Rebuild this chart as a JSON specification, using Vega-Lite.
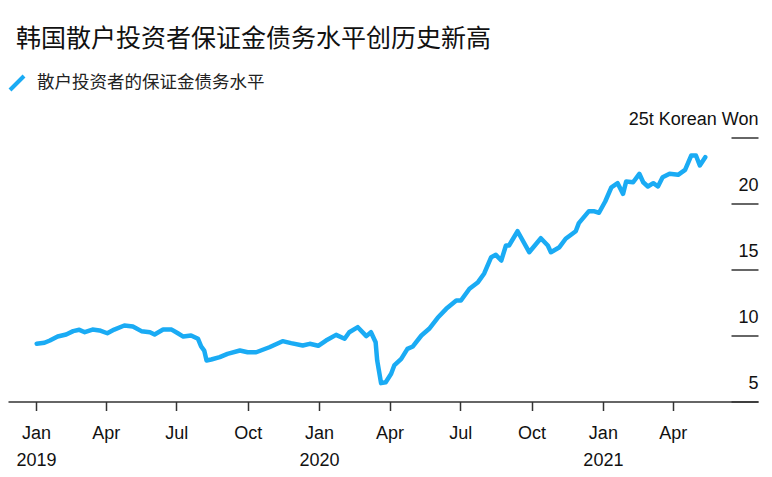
{
  "$schema": "https://vega.github.io/schema/vega-lite/v6.json",
  "width": 750,
  "height": 264,
  "autosize": {"type": "none"},
  "padding": {"left": 8, "top": 137.5, "right": 14, "bottom": 75.5},
  "background": "white",
  "title": {
    "text": "韩国散户投资者保证金债务水平创历史新高",
    "anchor": "start",
    "frame": "group",
    "font": "Noto Sans CJK SC",
    "fontSize": 25,
    "fontWeight": "normal",
    "color": "#111111",
    "dx": 8,
    "dy": -12,
    "offset": 10
  },
  "config": {
    "view": {"stroke": null},
    "axis": {"grid": false}
  },
  "datasets": {
    "debt": [
      {"date": "2019-01-02", "value": 9.37},
      {"date": "2019-01-12", "value": 9.45},
      {"date": "2019-01-19", "value": 9.62},
      {"date": "2019-01-29", "value": 9.92},
      {"date": "2019-02-09", "value": 10.08},
      {"date": "2019-02-18", "value": 10.33},
      {"date": "2019-02-26", "value": 10.43},
      {"date": "2019-03-05", "value": 10.25},
      {"date": "2019-03-15", "value": 10.45},
      {"date": "2019-03-24", "value": 10.38},
      {"date": "2019-04-03", "value": 10.17},
      {"date": "2019-04-12", "value": 10.45},
      {"date": "2019-04-25", "value": 10.76},
      {"date": "2019-05-06", "value": 10.68},
      {"date": "2019-05-17", "value": 10.33},
      {"date": "2019-05-28", "value": 10.25},
      {"date": "2019-06-03", "value": 10.08},
      {"date": "2019-06-14", "value": 10.45},
      {"date": "2019-06-25", "value": 10.45},
      {"date": "2019-07-03", "value": 10.17},
      {"date": "2019-07-10", "value": 9.92},
      {"date": "2019-07-20", "value": 10.0},
      {"date": "2019-07-29", "value": 9.75},
      {"date": "2019-08-02", "value": 9.17},
      {"date": "2019-08-06", "value": 8.86},
      {"date": "2019-08-09", "value": 8.11},
      {"date": "2019-08-15", "value": 8.18},
      {"date": "2019-08-26", "value": 8.36},
      {"date": "2019-09-05", "value": 8.61},
      {"date": "2019-09-21", "value": 8.86},
      {"date": "2019-10-01", "value": 8.73},
      {"date": "2019-10-12", "value": 8.73},
      {"date": "2019-10-29", "value": 9.11},
      {"date": "2019-11-15", "value": 9.57},
      {"date": "2019-11-26", "value": 9.42},
      {"date": "2019-12-11", "value": 9.24},
      {"date": "2019-12-20", "value": 9.37},
      {"date": "2019-12-31", "value": 9.22},
      {"date": "2020-01-10", "value": 9.62},
      {"date": "2020-01-23", "value": 10.05},
      {"date": "2020-02-03", "value": 9.75},
      {"date": "2020-02-09", "value": 10.25},
      {"date": "2020-02-20", "value": 10.63},
      {"date": "2020-03-02", "value": 9.95},
      {"date": "2020-03-08", "value": 10.25},
      {"date": "2020-03-14", "value": 9.49},
      {"date": "2020-03-16", "value": 8.11},
      {"date": "2020-03-21", "value": 6.39},
      {"date": "2020-03-27", "value": 6.46},
      {"date": "2020-04-03", "value": 7.10},
      {"date": "2020-04-07", "value": 7.73},
      {"date": "2020-04-16", "value": 8.23},
      {"date": "2020-04-24", "value": 8.99},
      {"date": "2020-05-01", "value": 9.17},
      {"date": "2020-05-12", "value": 10.0},
      {"date": "2020-05-22", "value": 10.51},
      {"date": "2020-06-02", "value": 11.34},
      {"date": "2020-06-13", "value": 12.02},
      {"date": "2020-06-26", "value": 12.65},
      {"date": "2020-07-02", "value": 12.65},
      {"date": "2020-07-13", "value": 13.54},
      {"date": "2020-07-24", "value": 14.04},
      {"date": "2020-08-01", "value": 14.7},
      {"date": "2020-08-10", "value": 15.93},
      {"date": "2020-08-16", "value": 16.11},
      {"date": "2020-08-23", "value": 15.68},
      {"date": "2020-08-29", "value": 16.82},
      {"date": "2020-09-02", "value": 16.82},
      {"date": "2020-09-13", "value": 17.9},
      {"date": "2020-09-28", "value": 16.31},
      {"date": "2020-10-13", "value": 17.37},
      {"date": "2020-10-22", "value": 16.82},
      {"date": "2020-10-26", "value": 16.31},
      {"date": "2020-11-06", "value": 16.69},
      {"date": "2020-11-14", "value": 17.33},
      {"date": "2020-11-27", "value": 17.9},
      {"date": "2020-12-01", "value": 18.51},
      {"date": "2020-12-14", "value": 19.42},
      {"date": "2020-12-20", "value": 19.42},
      {"date": "2020-12-27", "value": 19.3},
      {"date": "2021-01-04", "value": 20.15},
      {"date": "2021-01-12", "value": 21.23},
      {"date": "2021-01-20", "value": 21.54},
      {"date": "2021-01-27", "value": 20.73},
      {"date": "2021-01-31", "value": 21.67},
      {"date": "2021-02-09", "value": 21.61},
      {"date": "2021-02-17", "value": 22.25},
      {"date": "2021-02-22", "value": 21.61},
      {"date": "2021-02-28", "value": 21.29},
      {"date": "2021-03-07", "value": 21.54},
      {"date": "2021-03-13", "value": 21.29},
      {"date": "2021-03-19", "value": 21.99},
      {"date": "2021-03-28", "value": 22.25},
      {"date": "2021-04-08", "value": 22.17},
      {"date": "2021-04-17", "value": 22.55},
      {"date": "2021-04-25", "value": 23.64},
      {"date": "2021-05-01", "value": 23.64},
      {"date": "2021-05-06", "value": 22.88},
      {"date": "2021-05-13", "value": 23.51}
    ],
    "note": [
      {"date": "2021-04-29", "low": 20.0, "high": 23.3, "label": "Apr. 29"}
    ]
  },
  "layer": [
    {
      "data": {"name": "debt", "format": {"parse": {"date": "date:'%Y-%m-%d'"}}},
      "mark": {"type": "line", "strokeWidth": 4.5, "strokeJoin": "round", "strokeCap": "round"},
      "encoding": {
        "x": {
          "field": "date",
          "type": "temporal",
          "scale": {"domain": [{"year": 2018, "month": 11, "date": 26}, {"year": 2021, "month": 7, "date": 20}]},
          "axis": {
            "orient": "bottom",
            "title": null,
            "values": [
              {"year": 2019, "month": 1, "date": 1},
              {"year": 2019, "month": 4, "date": 1},
              {"year": 2019, "month": 7, "date": 1},
              {"year": 2019, "month": 10, "date": 1},
              {"year": 2020, "month": 1, "date": 1},
              {"year": 2020, "month": 4, "date": 1},
              {"year": 2020, "month": 7, "date": 1},
              {"year": 2020, "month": 10, "date": 1},
              {"year": 2021, "month": 1, "date": 1},
              {"year": 2021, "month": 4, "date": 1}
            ],
            "labelExpr": "month(datum.value) == 0 ? [timeFormat(datum.value, '%b'), timeFormat(datum.value, '%Y')] : timeFormat(datum.value, '%b')",
            "domainColor": "#333333",
            "domainWidth": 1.5,
            "tickColor": "#333333",
            "tickWidth": 1.5,
            "tickSize": 9,
            "labelFont": "Liberation Sans",
            "labelFontSize": 18,
            "labelColor": "#111111",
            "labelPadding": 14,
            "labelLineHeight": 27,
            "labelFlush": false,
            "labelOverlap": false,
            "grid": false
          }
        },
        "y": {
          "field": "value",
          "type": "quantitative",
          "scale": {"domain": [5, 25], "nice": false, "zero": false},
          "axis": {
            "orient": "right",
            "title": null,
            "values": [5, 10, 15, 20, 25],
            "domain": false,
            "grid": false,
            "tickSize": -27,
            "tickColor": "#333333",
            "tickWidth": 1.5,
            "labelPadding": 27,
            "labelAlign": "right",
            "labelBaseline": "alphabetic",
            "labelOffset": -13.5,
            "labelFont": "Liberation Sans",
            "labelFontSize": 18,
            "labelColor": "#111111",
            "labelFlush": false,
            "labelOverlap": false,
            "labelBound": false,
            "labelExpr": "datum.value == 25 ? '25t Korean Won' : datum.label"
          }
        },
        "color": {
          "datum": "散户投资者的保证金债务水平",
          "type": "nominal",
          "scale": {"range": ["#1aabf4"]},
          "legend": {
            "orient": "none",
            "legendX": 0,
            "legendY": -63.5,
            "title": null,
            "symbolType": "M-1,1L1,-1",
            "symbolSize": 196,
            "symbolStrokeWidth": 4,
            "labelFont": "Noto Sans CJK SC",
            "labelFontSize": 17.5,
            "labelColor": "#222222",
            "labelOffset": 11,
            "labelLimit": 500,
            "padding": 0
          }
        }
      }
    },
    {
      "data": {"name": "note", "format": {"parse": {"date": "date:'%Y-%m-%d'"}}},
      "mark": {"type": "rule", "color": "#111111", "strokeWidth": 1.5},
      "encoding": {
        "x": {"field": "date", "type": "temporal"},
        "y": {"field": "low", "type": "quantitative"},
        "y2": {"field": "high"}
      }
    },
    {
      "data": {"name": "note", "format": {"parse": {"date": "date:'%Y-%m-%d'"}}},
      "mark": {"type": "text", "align": "right", "baseline": "alphabetic", "dx": -16, "dy": 13, "font": "Liberation Sans", "fontSize": 18, "color": "#111111"},
      "encoding": {
        "x": {"field": "date", "type": "temporal"},
        "y": {"field": "low", "type": "quantitative"},
        "text": {"field": "label"}
      }
    }
  ]
}
